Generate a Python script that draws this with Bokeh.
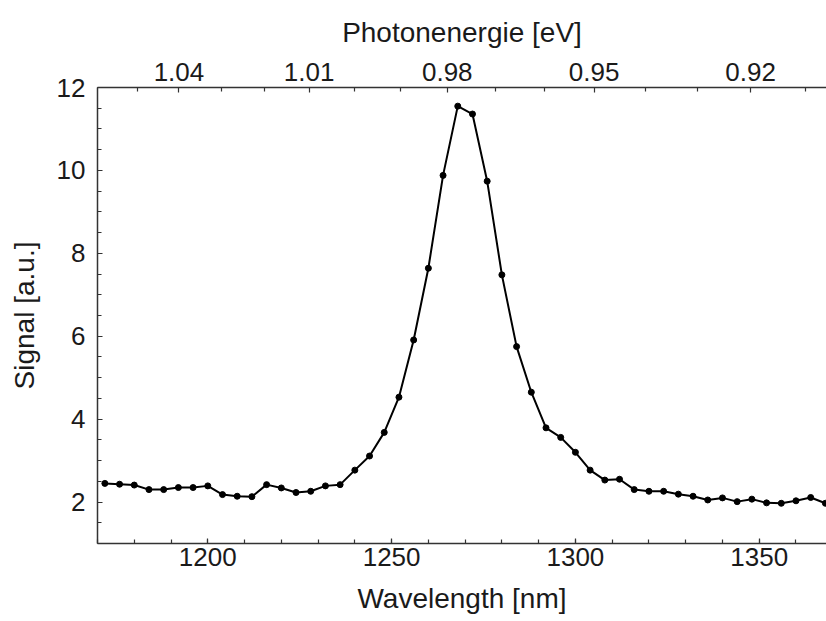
from bokeh.plotting import figure
from bokeh.models import Range1d, LinearAxis, FixedTicker, SingleIntervalTicker
from bokeh.embed import file_html
from bokeh.resources import INLINE

# Data
wavelength_nm = [1172, 1176, 1180, 1184, 1188, 1192, 1196, 1200, 1204, 1208,
                 1212, 1216, 1220, 1224, 1228, 1232, 1236, 1240, 1244, 1248,
                 1252, 1256, 1260, 1264, 1268, 1272, 1276, 1280, 1284, 1288,
                 1292, 1296, 1300, 1304, 1308, 1312, 1316, 1320, 1324, 1328,
                 1332, 1336, 1340, 1344, 1348, 1352, 1356, 1360, 1364, 1368]
signal = [2.45, 2.43, 2.41, 2.30, 2.30, 2.35, 2.35, 2.39, 2.18, 2.14,
          2.13, 2.42, 2.34, 2.23, 2.26, 2.39, 2.42, 2.77, 3.11, 3.68,
          4.53, 5.91, 7.64, 9.88, 11.55, 11.36, 9.74, 7.48, 5.75, 4.65,
          3.79, 3.56, 3.20, 2.77, 2.53, 2.55, 2.30, 2.26, 2.26, 2.19,
          2.14, 2.05, 2.10, 2.01, 2.07, 1.98, 1.97, 2.03, 2.11, 1.97]

energy_major = [1.04, 1.01, 0.98, 0.95, 0.92]
energy_major_labels = ["1.04", "1.01", "0.98", "0.95", "0.92"]
energy_minor = [1.05, 1.03, 1.02, 1.00, 0.99, 0.97, 0.96, 0.94, 0.93, 0.91]
HC = 1239.84  # eV*nm

FONT = "Liberation Sans"
TXT = "#1a1a1a"

p = figure(width=826, height=621,
           x_range=Range1d(1170, 1368.3), y_range=Range1d(1, 12),
           output_backend="svg", toolbar_location=None,
           min_border_left=97, min_border_right=0,
           min_border_top=87, min_border_bottom=78)
p.xgrid.visible = False
p.ygrid.visible = False
p.outline_line_color = None
p.background_fill_color = "white"
p.border_fill_color = "white"

p.line(wavelength_nm, signal, line_color="black", line_width=2)
p.scatter(wavelength_nm, signal, size=6, fill_color="black", line_color="black")


def style(ax, label_standoff, tick_standoff):
    ax.axis_line_color = "#333333"
    ax.axis_line_width = 1.5
    ax.major_tick_line_color = "#333333"
    ax.minor_tick_line_color = "#333333"
    ax.major_tick_line_width = 1.2
    ax.minor_tick_line_width = 1.2
    ax.major_tick_in = 5
    ax.major_tick_out = 0
    ax.minor_tick_in = 4
    ax.minor_tick_out = 0
    ax.major_label_text_font = FONT
    ax.major_label_text_font_size = "26px"
    ax.major_label_text_color = TXT
    ax.major_label_standoff = tick_standoff
    ax.axis_label_text_font = FONT
    ax.axis_label_text_font_size = "28px"
    ax.axis_label_text_font_style = "normal"
    ax.axis_label_text_color = TXT
    ax.axis_label_standoff = label_standoff


xa = p.xaxis[0]
xa.ticker = SingleIntervalTicker(interval=50, num_minor_ticks=5)
xa.axis_label = "Wavelength [nm]"
style(xa, 14, 4)

ya = p.yaxis[0]
ya.ticker = SingleIntervalTicker(interval=2, num_minor_ticks=4)
ya.axis_label = "Signal [a.u.]"
style(ya, 14, 12)

major_wl = [round(HC / e, 3) for e in energy_major]
minor_wl = [round(HC / e, 3) for e in energy_minor]
top = LinearAxis(ticker=FixedTicker(ticks=major_wl, minor_ticks=minor_wl),
                 major_label_overrides={w: s for w, s in zip(major_wl, energy_major_labels)},
                 axis_label="Photonenergie [eV]")
style(top, 12, 7)
p.add_layout(top, "above")

open("out.html", "w").write(file_html(p, INLINE))
